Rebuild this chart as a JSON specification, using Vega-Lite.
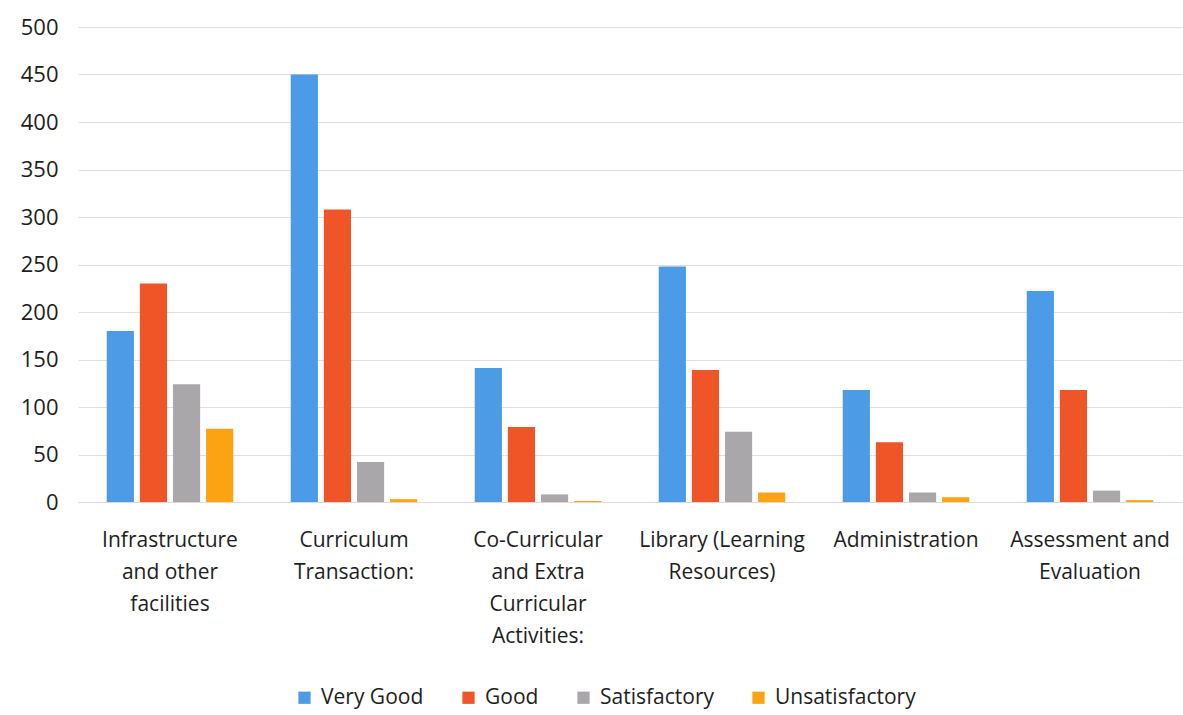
{
  "$schema": "https://vega.github.io/schema/vega-lite/v6.json",
  "width": 1104,
  "height": 475,
  "autosize": {"type": "none"},
  "padding": {"left": 78, "top": 27, "right": 1, "bottom": 213},
  "background": "white",
  "config": {
    "font": "Open Sans",
    "view": {"stroke": null}
  },
  "data": {
    "values": [
      {"area": "Infrastructure|and other|facilities", "rating": "Very Good", "count": 180},
      {"area": "Infrastructure|and other|facilities", "rating": "Good", "count": 230},
      {"area": "Infrastructure|and other|facilities", "rating": "Satisfactory", "count": 124},
      {"area": "Infrastructure|and other|facilities", "rating": "Unsatisfactory", "count": 77},
      {"area": "Curriculum|Transaction:", "rating": "Very Good", "count": 450},
      {"area": "Curriculum|Transaction:", "rating": "Good", "count": 308},
      {"area": "Curriculum|Transaction:", "rating": "Satisfactory", "count": 42},
      {"area": "Curriculum|Transaction:", "rating": "Unsatisfactory", "count": 3},
      {"area": "Co-Curricular|and Extra|Curricular|Activities:", "rating": "Very Good", "count": 141},
      {"area": "Co-Curricular|and Extra|Curricular|Activities:", "rating": "Good", "count": 79},
      {"area": "Co-Curricular|and Extra|Curricular|Activities:", "rating": "Satisfactory", "count": 8},
      {"area": "Co-Curricular|and Extra|Curricular|Activities:", "rating": "Unsatisfactory", "count": 1},
      {"area": "Library (Learning|Resources)", "rating": "Very Good", "count": 248},
      {"area": "Library (Learning|Resources)", "rating": "Good", "count": 139},
      {"area": "Library (Learning|Resources)", "rating": "Satisfactory", "count": 74},
      {"area": "Library (Learning|Resources)", "rating": "Unsatisfactory", "count": 10},
      {"area": "Administration", "rating": "Very Good", "count": 118},
      {"area": "Administration", "rating": "Good", "count": 63},
      {"area": "Administration", "rating": "Satisfactory", "count": 10},
      {"area": "Administration", "rating": "Unsatisfactory", "count": 5},
      {"area": "Assessment and|Evaluation", "rating": "Very Good", "count": 222},
      {"area": "Assessment and|Evaluation", "rating": "Good", "count": 118},
      {"area": "Assessment and|Evaluation", "rating": "Satisfactory", "count": 12},
      {"area": "Assessment and|Evaluation", "rating": "Unsatisfactory", "count": 2}
    ]
  },
  "mark": {"type": "bar", "stroke": null},
  "encoding": {
    "x": {
      "field": "area",
      "type": "nominal",
      "sort": null,
      "title": null,
      "scale": {"paddingInner": 0.28, "paddingOuter": 0.14},
      "axis": {
        "labelAngle": 0,
        "labelExpr": "split(datum.label, '|')",
        "labelFontSize": 21,
        "labelLineHeight": 32,
        "labelColor": "#1e1e1e",
        "labelPadding": 27,
        "labelBaseline": "top",
        "ticks": false,
        "domain": true,
        "domainColor": "#e6d6d6",
        "labelLimit": 300
      }
    },
    "xOffset": {
      "field": "rating",
      "type": "nominal",
      "sort": ["Very Good", "Good", "Satisfactory", "Unsatisfactory"],
      "scale": {"paddingInner": 0.18, "paddingOuter": 0.09}
    },
    "y": {
      "field": "count",
      "type": "quantitative",
      "title": null,
      "scale": {"domain": [0, 500], "nice": false},
      "axis": {
        "values": [0, 50, 100, 150, 200, 250, 300, 350, 400, 450, 500],
        "labelFontSize": 22,
        "labelColor": "#1e1e1e",
        "labelPadding": 20,
        "ticks": false,
        "domain": false,
        "grid": true,
        "gridColor": "#ead9d9",
        "gridWidth": 1.2
      }
    },
    "color": {
      "field": "rating",
      "type": "nominal",
      "sort": ["Very Good", "Good", "Satisfactory", "Unsatisfactory"],
      "scale": {
        "domain": ["Very Good", "Good", "Satisfactory", "Unsatisfactory"],
        "range": ["#4b9be6", "#ef5526", "#a9a7aa", "#fba313"]
      },
      "legend": {
        "title": null,
        "orient": "none",
        "direction": "horizontal",
        "legendX": 216,
        "legendY": 660,
        "symbolType": "square",
        "symbolSize": 150,
        "labelFontSize": 21,
        "labelColor": "#1e1e1e",
        "columnPadding": 34,
        "labelOffset": 6
      }
    }
  }
}
